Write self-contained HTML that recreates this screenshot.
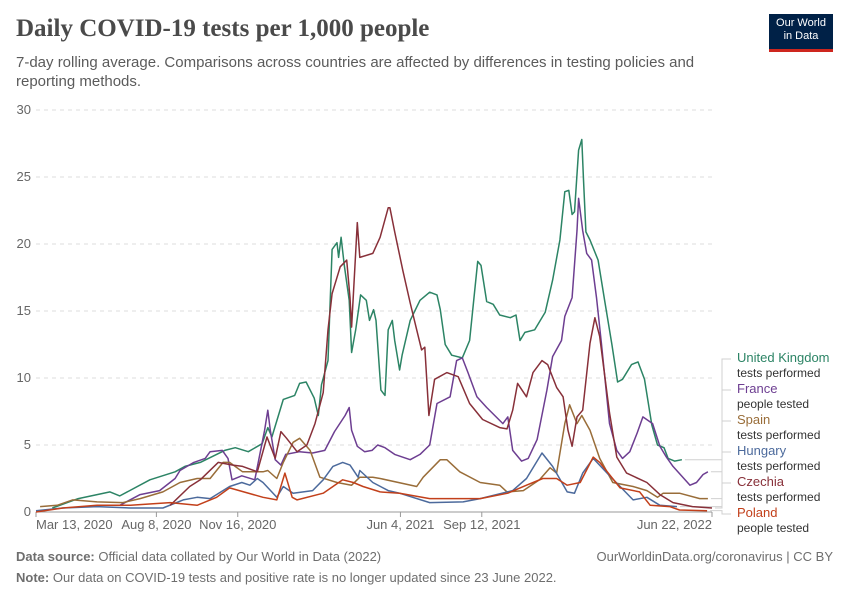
<!DOCTYPE html>
<html><head><meta charset="utf-8">
<style>
body{margin:0;background:#fff;font-family:"Liberation Sans",sans-serif;}
#wrap{position:relative;width:850px;height:600px;overflow:hidden;}
.t{position:absolute;white-space:nowrap;}
</style></head>
<body>
<div id="wrap">
<div class="t" style="left:16px;top:15px;font-family:'Liberation Serif',serif;font-weight:bold;font-size:25px;color:#4a4a4a;">Daily COVID-19 tests per 1,000 people</div>
<div class="t" style="left:16px;top:53px;font-size:15px;line-height:19px;color:#5b5b5b;white-space:normal;width:700px;">7-day rolling average. Comparisons across countries are affected by differences in testing policies and reporting methods.</div>
<div style="position:absolute;left:769px;top:14px;width:64px;height:38px;background:#002147;border-bottom:3px solid #ce261e;color:#fff;font-size:11px;line-height:13px;text-align:center;padding-top:3px;box-sizing:border-box;">Our World<br>in Data</div>
<svg id="chart" width="850" height="600" style="position:absolute;left:0;top:0;"></svg>
<div class="t" style="left:16px;top:549px;font-size:13px;color:#6e6e6e;"><b>Data source:</b> Official data collated by Our World in Data (2022)</div>
<div class="t" style="right:17px;top:549px;font-size:13px;color:#6e6e6e;">OurWorldinData.org/coronavirus | CC BY</div>
<div class="t" style="left:16px;top:570px;font-size:13px;color:#6e6e6e;"><b>Note:</b> Our data on COVID-19 tests and positive rate is no longer updated since 23 June 2022.</div>
</div>
<script>
const yTicks=[0,5,10,15,20,25,30];
const xTickDays=[0,148,248,448,548,831];
const xTickLabels=["Mar 13, 2020","Aug 8, 2020","Nov 16, 2020","Jun 4, 2021","Sep 12, 2021","Jun 22, 2022"];
const seriesNames=["United Kingdom","France","Spain","Hungary","Czechia","Poland"];
const seriesSubs=["tests performed","people tested","tests performed","tests performed","tests performed","people tested"];
const seriesColors=["#2c8465","#6d3e91","#996d39","#4c6a9c","#883039","#c2401b"];
const ukDays=[20,52,91,103,140,171,183,202,232,245,261,278,285,290,304,318,324,332,342,347,351,359,364,370,372,375,379,385,388,393,399,406,410,415,418,424,429,433,438,441,447,450,460,472,484,493,497,503,511,524,533,543,547,554,562,570,583,590,595,601,613,626,635,644,650,655,659,662,667,671,673,676,681,691,699,708,715,721,732,740,748,757,764,772,777,785,794];
const ukVals=[0.3,1.0,1.5,1.2,2.4,3.0,3.4,3.7,4.6,4.8,4.5,5.1,6.3,5.6,8.4,8.7,9.6,9.7,8.5,7.2,9.5,11.3,19.6,20.1,19.0,20.5,18.4,15.8,11.9,13.6,16.2,15.8,14.3,15.1,14.3,9.1,8.7,13.6,14.3,12.8,10.6,11.7,14.3,15.8,16.4,16.2,15.1,12.5,11.7,11.5,12.8,18.7,18.4,15.7,15.5,14.7,14.5,14.7,12.8,13.4,13.6,14.9,17.3,20.3,23.9,24.0,22.2,22.4,27.0,27.8,24.8,20.9,20.3,18.8,15.8,12.5,9.7,9.9,11.0,11.2,9.9,6.5,5.0,4.8,4.0,3.8,3.9];
const frDays=[103,128,152,171,177,194,208,214,229,236,241,253,269,281,285,288,294,301,307,324,340,355,367,380,385,388,395,404,413,420,429,441,460,472,484,493,509,517,524,531,542,554,574,580,586,597,605,616,628,635,646,650,659,665,667,672,677,683,689,695,705,714,721,730,739,746,758,767,775,783,804,812,820,826];
const frVals=[0.5,1.3,1.6,2.5,3.1,3.7,4.0,4.5,4.6,4.0,2.4,2.7,2.4,6.1,7.6,6.1,3.9,3.5,4.3,4.5,4.4,4.6,6.0,7.2,7.8,6.1,4.9,4.5,4.6,5.0,4.8,4.3,3.9,4.3,5.0,8.1,8.6,11.3,11.5,10.4,8.6,7.8,6.6,7.1,4.6,3.8,4.0,5.4,9.1,11.6,12.8,14.6,16.0,21.0,23.4,21.0,19.3,18.8,16.0,12.6,6.6,4.6,4.0,4.5,5.9,7.1,6.6,4.9,4.1,3.4,2.0,2.2,2.8,3.0];
const esDays=[5,26,45,75,107,128,156,177,198,214,230,238,254,279,285,296,304,316,324,337,349,370,388,398,414,423,468,476,497,505,521,546,570,579,599,619,632,640,650,656,665,671,681,693,709,734,751,764,771,791,816,826];
const esVals=[0.4,0.5,0.9,0.75,0.7,1.0,1.5,2.2,2.5,2.5,3.7,3.7,3.0,3.0,3.1,2.5,3.7,5.2,5.5,4.6,2.6,2.2,2.0,2.6,2.6,2.5,1.9,2.6,3.9,3.9,3.0,2.2,2.0,1.5,1.6,2.4,3.3,2.9,6.6,8.0,6.6,7.2,6.1,4.0,2.2,1.9,1.6,1.1,1.4,1.4,1.0,1.0];
const huDays=[0,33,75,116,156,181,198,214,238,253,263,272,279,296,304,316,340,353,365,377,386,396,398,414,433,447,484,525,546,586,603,622,635,653,662,672,685,702,718,734,751,767,788];
const huVals=[0.1,0.3,0.4,0.3,0.3,0.9,1.1,1.0,1.9,2.2,2.0,2.5,2.2,1.1,1.9,1.4,1.6,2.4,3.4,3.7,3.5,2.6,3.1,2.2,1.6,1.4,0.7,0.75,1.0,1.6,2.5,4.4,3.4,1.5,1.4,2.9,4.0,2.9,1.9,0.9,1.1,0.5,0.4];
const czDays=[165,189,202,224,242,254,272,284,294,301,308,321,333,343,353,359,364,374,382,386,388,392,395,398,414,423,433,435,441,451,460,468,474,478,483,490,505,519,533,549,570,579,586,592,603,611,622,629,640,648,654,659,665,672,681,687,693,705,714,726,751,767,783,807,831];
const czVals=[0.5,1.9,2.4,3.7,3.5,3.4,3.0,5.6,4.0,6.0,5.5,4.5,5.0,6.6,8.9,13.6,16.3,18.3,18.8,16.0,13.8,18.3,21.6,19.0,19.3,20.5,22.7,22.7,20.9,18.0,15.6,13.6,12.1,12.3,7.2,9.9,10.4,10.1,8.1,6.9,6.3,6.2,7.6,9.6,8.6,10.4,11.3,11.0,9.3,8.6,6.1,4.9,7.1,7.6,12.6,14.5,13.1,7.4,4.1,2.9,2.2,1.3,0.7,0.4,0.3];
const plDays=[0,33,75,116,165,198,222,238,279,296,306,315,321,353,377,390,402,423,447,484,546,580,603,623,640,653,669,685,693,718,742,755,779,791,825];
const plVals=[0.0,0.3,0.5,0.5,0.7,0.5,1.1,1.8,1.1,0.9,2.9,1.1,0.9,1.4,2.4,2.2,1.9,1.5,1.4,1.0,1.0,1.4,2.0,2.5,2.5,2.0,2.2,4.1,3.7,1.8,1.5,0.5,0.4,0.15,0.1];
const seriesDays=[ukDays,frDays,esDays,huDays,czDays,plDays];
const seriesVals=[ukVals,frVals,esVals,huVals,czVals,plVals];

const NS="http://www.w3.org/2000/svg";
const svg=document.getElementById('chart');
const X0=36,X1=712,Y0=512,Y1=110,DMAX=831,VMAX=30;
const xs=d=>X0+(X1-X0)*d/DMAX;
const ys=v=>Y0-(Y0-Y1)*v/VMAX;
function mk(tag,attrs){const e=document.createElementNS(NS,tag);for(const k in attrs)e.setAttribute(k,attrs[k]);svg.appendChild(e);return e;}

yTicks.forEach(v=>{
  if(v>0){const g=mk('line',{x1:X0,x2:X1,y1:ys(v),y2:ys(v),stroke:'#dddddd','stroke-dasharray':'4,4'});
  
  }
  const t=mk('text',{x:31,y:ys(v)+4,'text-anchor':'end','font-size':13,fill:'#666','font-family':'Liberation Sans, sans-serif'});
  t.textContent=v;
  
  
});
const ax=mk('line',{x1:X0,x2:X1,y1:Y0,y2:Y0,stroke:'#999'});


xTickDays.forEach((d,i)=>{
  const tk=mk('line',{x1:xs(d),x2:xs(d),y1:Y0,y2:Y0+5,stroke:'#999'});
  
  
  const anchor=i==0?'start':(i==xTickDays.length-1?'end':'middle');
  const t=mk('text',{x:xs(d),y:Y0+17,'text-anchor':anchor,'font-size':13,fill:'#666','font-family':'Liberation Sans, sans-serif'});
  t.textContent=xTickLabels[i];
  
  
});
const labelY=[357,388,419,450,481,512];
seriesNames.forEach((n,i)=>{
  const D=seriesDays[i],V=seriesVals[i];
  const pts=D.map((d,j)=>xs(d).toFixed(1)+','+ys(V[j]).toFixed(1)).join(' ');
  const p=mk('polyline',{points:pts,fill:'none',stroke:seriesColors[i],'stroke-width':1.5,'stroke-linejoin':'round'});
  
  
  const ex=xs(D[D.length-1])+3,ey=ys(V[V.length-1]);
  const c=mk('polyline',{points:`${ex},${ey} 722,${ey} 722,${labelY[i]+2} 731,${labelY[i]+2}`,fill:'none',stroke:'#d0d0d0','stroke-width':1});
  
  
  const t=mk('text',{x:737,y:labelY[i]+5,'font-size':13,fill:seriesColors[i],'font-family':'Liberation Sans, sans-serif'});
  t.textContent=n;
  
  
  const s=mk('text',{x:737,y:labelY[i]+20,'font-size':12,fill:'#333','font-family':'Liberation Sans, sans-serif'});
  s.textContent=seriesSubs[i];
  
  
});
</script>
</body></html>
